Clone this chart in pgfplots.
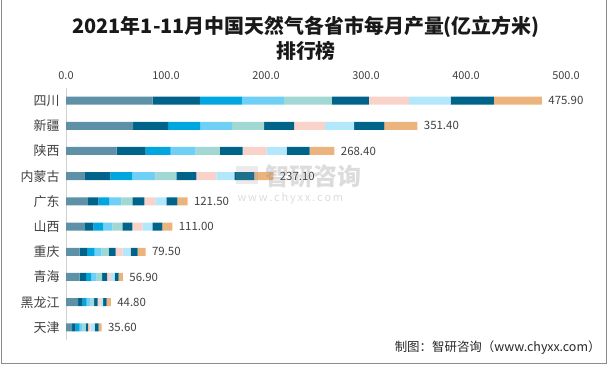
\documentclass[border=0pt]{standalone}
\usepackage{fontspec}
\setmainfont{Noto Sans CJK SC}
\usepackage{pgfplots}
\pgfplotsset{compat=1.18}
\usepackage{pgfplotstable}

\definecolor{c1}{HTML}{5E91A8}
\definecolor{c2}{HTML}{00648A}
\definecolor{c3}{HTML}{00A6E0}
\definecolor{c4}{HTML}{6FCFF5}
\definecolor{c5}{HTML}{A1D8D3}
\definecolor{c6}{HTML}{F9D2CA}
\definecolor{c7}{HTML}{B3E7FB}
\definecolor{c8}{HTML}{EDB37D}
\definecolor{txt}{HTML}{404040}

% idx: 9 = top row; segments: 1-2月, 3月 ... 11月; end = drawn bar length; lab = printed total
\pgfplotstableread{
idx a b c d e f g h i j end lab
9 86.5 47.3 42 42 48 37 40 41.7 43.4 48 475.9 475.90
8 67 35 32 32 32 30 31 29 30.4 33 351.4 351.40
7 50.5 29 25 25 24 23 24 20 23 24.9 268.4 268.40
6 18.3 26 22 23 21 20 20 18 20 19 207.3 237.10
5 21.3 11 11 12 11 12 11 11 11 10.2 121.5 121.50
4 18.3 9 10 9 10 10 10 10 10 10 106.3 111.00
3 13.5 8 7 7 7 7 7 8 7 8 79.5 79.50
2 13.5 6.5 5 5.5 5.5 5 4 3.5 4 4.4 56.9 56.90
1 12 4.5 4 4 3.5 3.5 3 2.5 3.5 4.3 44.8 44.80
0 6 3.5 4 3.2 3 2.5 2.5 4 4 2.9 35.6 35.60
}\data

\begin{document}
\begin{tikzpicture}
\useasboundingbox (0,0) rectangle (611bp,369bp);
\draw[black!45, line width=0.8pt] (1.5bp,369bp) -- (1.5bp,5.5bp) -- (606bp,5.5bp) -- (606bp,369bp);

\node[font=\fontsize{20}{20}\selectfont\bfseries, text=black!90] at (306bp,342bp) {2021年1-11月中国天然气各省市每月产量(亿立方米)};
\node[font=\fontsize{20}{20}\selectfont\bfseries, text=black!90] at (306bp,318bp) {排行榜};

\begin{axis}[
  at={(66bp,29bp)}, anchor=south west,
  scale only axis, width=500bp, height=252bp,
  xbar stacked, bar width=8bp,
  xmin=0, xmax=500, ymin=-0.5, ymax=9.5,
  axis x line*=top, axis y line*=left,
  x axis line style={draw=none},
  y axis line style={draw=black!18, line width=0.8pt},
  major tick length=0,
  xtick={0,100,...,500},
  xticklabel style={/pgf/number format/fixed, /pgf/number format/fixed zerofill, /pgf/number format/precision=1, /pgf/number format/assume math mode=true},
  xticklabel style={font=\fontsize{11}{11}\selectfont, text=txt, yshift=5bp},
  ytick={0,...,9},
  yticklabels={天津,黑龙江,青海,重庆,山西,广东,内蒙古,陕西,新疆,四川},
  yticklabel style={font=\fontsize{13}{13}\selectfont, text=txt, xshift=-3bp},
  clip=false,
]
\addplot[fill=c1, draw=none] table[x=a, y=idx] {\data};
\addplot[fill=c2, draw=none] table[x=b, y=idx] {\data};
\addplot[fill=c3, draw=none] table[x=c, y=idx] {\data};
\addplot[fill=c4, draw=none] table[x=d, y=idx] {\data};
\addplot[fill=c5, draw=none] table[x=e, y=idx] {\data};
\addplot[fill=c2, draw=none] table[x=f, y=idx] {\data};
\addplot[fill=c6, draw=none] table[x=g, y=idx] {\data};
\addplot[fill=c7, draw=none] table[x=h, y=idx] {\data};
\addplot[fill=c2, draw=none] table[x=i, y=idx] {\data};
\addplot[fill=c8, draw=none] table[x=j, y=idx] {\data};
\end{axis}

% overlay axis for the total labels (not stacked)
\begin{axis}[
  at={(66bp,29bp)}, anchor=south west,
  scale only axis, width=500bp, height=252bp,
  xmin=0, xmax=500, ymin=-0.5, ymax=9.5,
  hide axis, clip=false,
]
\addplot[draw=none, mark=none,
  nodes near coords, point meta=explicit symbolic,
  every node near coord/.append style={anchor=west, xshift=3bp, yshift=0pt, font=\fontsize{11.5}{11.5}\selectfont, text=txt}]
  table[x=end, y=idx, meta=lab] {\data};
\end{axis}

% watermark
\node[opacity=0.3, text=black!45, font=\fontsize{24}{24}\selectfont\bfseries, anchor=west] at (262bp,193bp) {智研咨询};
\node[opacity=0.3, text=black!45, font=\fontsize{11}{11}\selectfont, anchor=west] at (234bp,171bp) {w\,w\,w\,.\,c\,h\,y\,x\,x\,.\,c\,o\,m};
\fill[opacity=0.2, black!40] (236bp,185bp) rectangle (258bp,203bp);

\node[font=\fontsize{12.5}{12.5}\selectfont, text=black!85, anchor=east] at (604bp,21bp) {制图：智研咨询（www.chyxx.com）};
\end{tikzpicture}
\end{document}
